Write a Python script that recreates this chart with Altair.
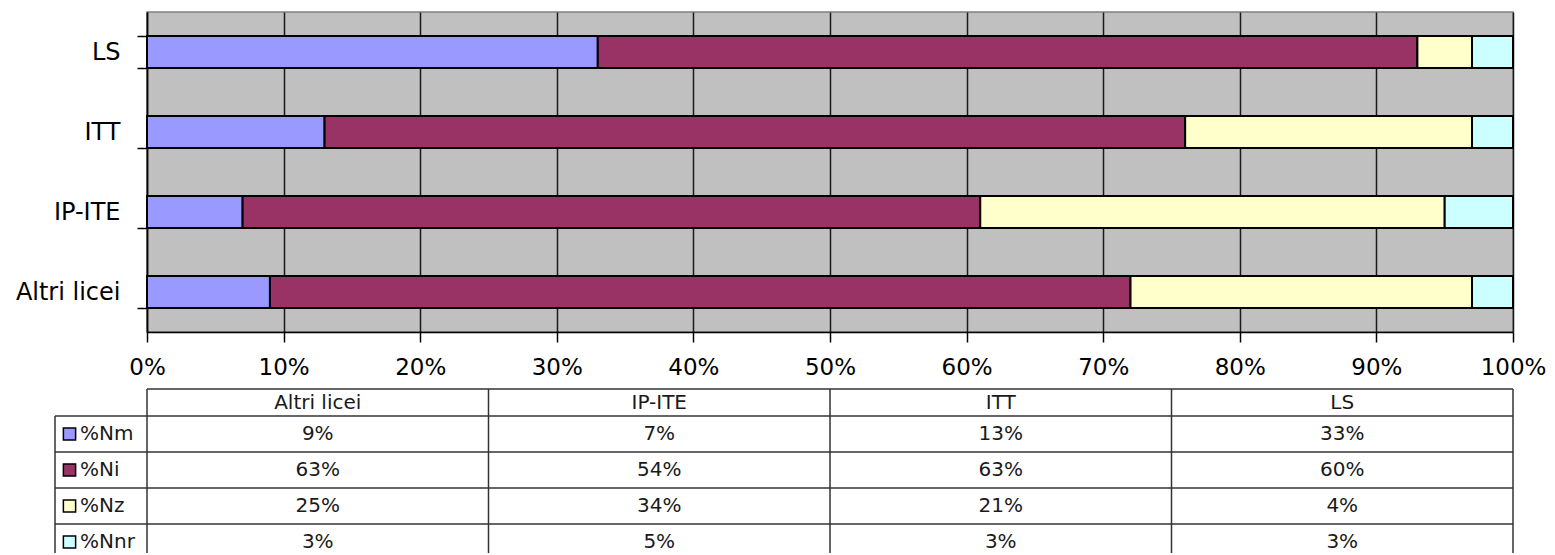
import altair as alt
import pandas as pd

# ---- data ----
schools = ["Altri licei", "IP-ITE", "ITT", "LS"]
series = ["%Nm", "%Ni", "%Nz", "%Nnr"]
nm = [9, 7, 13, 33]
ni = [63, 54, 63, 60]
nz = [25, 34, 21, 4]
nnr = [3, 5, 3, 3]
colors = ["#9999FF", "#993366", "#FFFFCC", "#CCFFFF"]
bar_order = ["LS", "ITT", "IP-ITE", "Altri licei"]
x_ticks = [0, 0.1, 0.2, 0.3, 0.4, 0.5, 0.6, 0.7, 0.8, 0.9, 1.0]

FONT = "DejaVu Sans"
PLOT_W = 1366
PLOT_H = 320

values = [nm, ni, nz, nnr]
rows = []
for si, (s, vals) in enumerate(zip(series, values)):
    for ci, (sch, v) in enumerate(zip(schools, vals)):
        rows.append({"school": sch, "series": s, "order": si, "col": ci,
                     "value": v / 100.0, "label": f"{v}%"})
df = pd.DataFrame(rows)

bars = alt.Chart(df).mark_bar(stroke="black", strokeWidth=2).encode(
    x=alt.X("value:Q", stack="zero",
            scale=alt.Scale(domain=[0, 1], nice=False),
            axis=alt.Axis(format="%", values=x_ticks, title=None, grid=True,
                          gridColor="#1a1a1a", gridWidth=1.5,
                          domainColor="black", domainWidth=1.5,
                          tickColor="black", tickWidth=1.5, tickSize=10,
                          labelFontSize=23, labelFont=FONT, labelColor="black",
                          labelPadding=14, labelFlush=False, labelOverlap=False)),
    y=alt.Y("school:N", sort=bar_order,
            scale=alt.Scale(paddingInner=0.6, paddingOuter=0.3),
            axis=alt.Axis(title=None, tickBand="extent", tickColor="black",
                          tickWidth=1.5, tickSize=10, domainColor="black",
                          domainWidth=1.5, labelFontSize=24, labelFont=FONT,
                          labelColor="black", labelPadding=17)),
    color=alt.Color("series:N", scale=alt.Scale(domain=series, range=colors),
                    legend=None),
    order=alt.Order("order:Q"),
).properties(width=PLOT_W, height=PLOT_H,
             view=alt.ViewBackground(fill="#C0C0C0", stroke="#808080", strokeWidth=1.5))

# ---- table layout (built from the data arrays) ----
col_px = PLOT_W / 4.0
leg_w = 92 / col_px
row_edges = [0, 27, 63, 99, 135, 171]
TABLE_H = 164  # visible part of the table (bottom row cut like the reference)

texts_rows = []
for ci, sch in enumerate(schools):
    texts_rows.append({"tx": ci + 0.5, "ty": (row_edges[0] + row_edges[1]) / 2, "text": sch})
legend_items = []
for si, (s, vals) in enumerate(zip(series, values)):
    y0, y1 = row_edges[si + 1], row_edges[si + 2]
    for ci, v in enumerate(vals):
        texts_rows.append({"tx": ci + 0.5, "ty": (y0 + y1) / 2, "text": f"{v}%"})
    legend_items.append({"series": s, "sx": -leg_w + 14.5 / col_px,
                         "lx": -leg_w + 25 / col_px, "ty": (y0 + y1) / 2})
text_df = pd.DataFrame(texts_rows)
leg_df = pd.DataFrame(legend_items)

# grid lines of the table
lines = []
for i, ye in enumerate(row_edges):
    if ye <= TABLE_H:
        lines.append({"x": 0 if i == 0 else -leg_w, "x2": 4, "y": ye, "y2": ye})
bottom = min(row_edges[-1], TABLE_H)
lines.append({"x": -leg_w, "x2": -leg_w, "y": row_edges[1], "y2": bottom})
for ci in range(len(schools) + 1):
    lines.append({"x": ci, "x2": ci, "y": row_edges[0], "y2": bottom})
lines_df = pd.DataFrame(lines)

xs = alt.Scale(domain=[0, 4], nice=False, zero=False)
ys = alt.Scale(domain=[0, TABLE_H], reverse=True, nice=False, zero=False)

rules = alt.Chart(lines_df).mark_rule(color="#333333", strokeWidth=1.5).encode(
    x=alt.X("x:Q", scale=xs, axis=None), x2="x2:Q",
    y=alt.Y("y:Q", scale=ys, axis=None), y2="y2:Q")
texts = alt.Chart(text_df).mark_text(
    font=FONT, fontSize=20, color="#1a1a1a", baseline="middle", align="center").encode(
    x=alt.X("tx:Q", scale=xs, axis=None),
    y=alt.Y("ty:Q", scale=ys, axis=None),
    text="text:N")
squares = alt.Chart(leg_df).mark_point(
    shape="square", filled=True, size=150, stroke="black", strokeWidth=1.5,
    opacity=1).encode(
    x=alt.X("sx:Q", scale=xs, axis=None),
    y=alt.Y("ty:Q", scale=ys, axis=None),
    fill=alt.Fill("series:N", scale=alt.Scale(domain=series, range=colors), legend=None))
leg_text = alt.Chart(leg_df).mark_text(
    font=FONT, fontSize=20, color="#1a1a1a", baseline="middle", align="left").encode(
    x=alt.X("lx:Q", scale=xs, axis=None),
    y=alt.Y("ty:Q", scale=ys, axis=None),
    text="series:N")

table = alt.layer(rules, texts, squares, leg_text).properties(
    width=PLOT_W, height=TABLE_H,
    view=alt.ViewBackground(fill="white", stroke="transparent"))

chart = alt.vconcat(bars, table, spacing=57, bounds="flush").properties(
    padding={"left": 6, "top": -9, "right": 0, "bottom": 0}
).configure(font=FONT)

chart.save("out.html", embed_options={"renderer": "svg", "actions": False})
